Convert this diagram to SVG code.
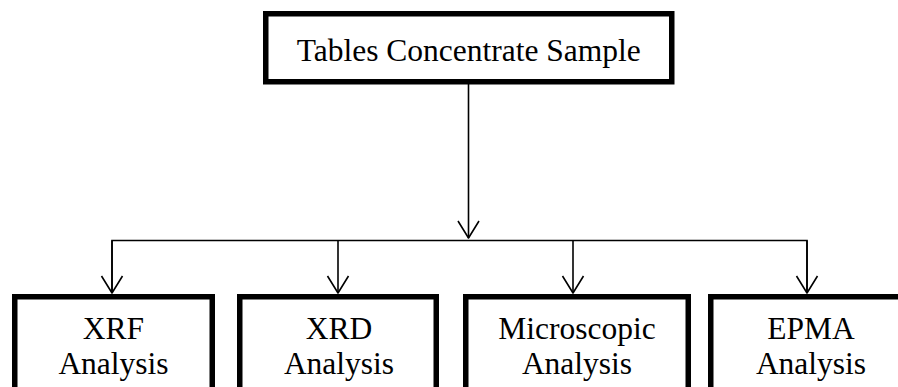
<svg xmlns="http://www.w3.org/2000/svg" width="898" height="387" viewBox="0 0 898 387">
  <style>
    .box { fill: #ffffff; stroke: #000000; stroke-width: 5.5; stroke-linejoin: miter; }
    .label { font-family: "Liberation Serif", "Times New Roman", serif; font-size: 31.5px; fill: #000000; text-anchor: middle; }
    .wire { fill: none; stroke: #000000; stroke-width: 1.6; }
  </style>
  <defs>
    <marker id="arrow" markerUnits="userSpaceOnUse" viewBox="-20 -13 22 26" markerWidth="22" markerHeight="26" refX="0" refY="0" orient="auto">
      <path d="M-17,-10.5 L0,0 L-17,10.5" fill="none" stroke="#000000" stroke-width="1.6" stroke-linejoin="round"/>
    </marker>
  </defs>
  <rect width="898" height="387" fill="#ffffff"/>

  <!-- connectors -->
  <g id="connectors">
    <line class="wire" x1="468.5" y1="84" x2="468.5" y2="238" marker-end="url(#arrow)"/>
    <polyline class="wire" points="112,293 112,240.5 807,240.5 807,293"/>
    <line class="wire" x1="112" y1="240.5" x2="112" y2="293" marker-end="url(#arrow)"/>
    <line class="wire" x1="338" y1="240.5" x2="338" y2="293" marker-end="url(#arrow)"/>
    <line class="wire" x1="573" y1="240.5" x2="573" y2="293" marker-end="url(#arrow)"/>
    <line class="wire" x1="807" y1="240.5" x2="807" y2="293" marker-end="url(#arrow)"/>
  </g>

  <!-- source sample -->
  <g id="node-sample">
    <rect class="box" x="265.75" y="13.75" width="406" height="68"/>
    <text class="label" x="468.75" y="61">Tables Concentrate Sample</text>
  </g>

  <!-- analysis methods -->
  <g id="node-xrf">
    <rect class="box" x="14.75" y="296.75" width="197.5" height="110"/>
    <text class="label" x="113.5" y="339">XRF</text>
    <text class="label" x="113.5" y="374">Analysis</text>
  </g>
  <g id="node-xrd">
    <rect class="box" x="239.75" y="296.75" width="196.5" height="110"/>
    <text class="label" x="339" y="339">XRD</text>
    <text class="label" x="339" y="374">Analysis</text>
  </g>
  <g id="node-micro">
    <rect class="box" x="465.75" y="296.75" width="222.5" height="110"/>
    <text class="label" x="577" y="339">Microscopic</text>
    <text class="label" x="577" y="374">Analysis</text>
  </g>
  <g id="node-epma">
    <rect class="box" x="710.75" y="296.75" width="200.5" height="110"/>
    <text class="label" x="811" y="339">EPMA</text>
    <text class="label" x="811" y="374">Analysis</text>
  </g>
</svg>
